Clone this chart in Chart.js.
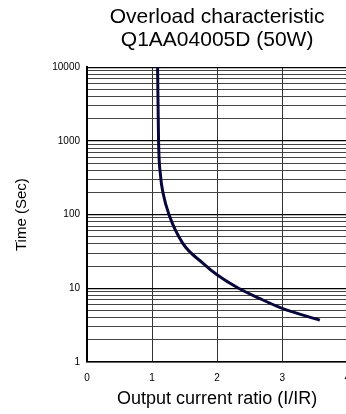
<!DOCTYPE html>
<html>
<head>
<meta charset="utf-8">
<script src="https://cdn.jsdelivr.net/npm/chart.js@4.4.1/dist/chart.umd.min.js"></script>
<style>
  html, body { margin: 0; padding: 0; background: #fff; overflow: hidden; }
  #wrap { width: 360px; height: 414px; }
</style>
</head>
<body>
<div id="wrap"><canvas id="myChart"></canvas></div>
<script>
// values
const ratio = [1.085, 1.10, 1.13, 1.17, 1.26, 1.47, 1.78, 2.01, 2.33, 2.65, 3.0, 3.58];
const seconds = [10000, 1000, 340, 195, 100, 41, 22, 15, 10, 7.3, 5.35, 3.7];

const xTicks = [0, 1, 2, 3, 4];
const yMajor = [1, 10, 100, 1000, 10000];
const yMinor = [2, 3, 4, 5, 6, 7, 8, 9];

const yTicks = [];
yMajor.forEach(function (m, i) {
  yTicks.push(m);
  if (i < yMajor.length - 1) yMinor.forEach(function (k) { yTicks.push(m * k); });
});

const font = "'Liberation Sans', Arial, sans-serif";

const ctx = document.getElementById('myChart').getContext('2d');
const myChart = new Chart(ctx, {
  type: 'line',
  data: {
    datasets: [{
      label: 'Overload',
      data: ratio.map(function (r, i) { return { x: r, y: seconds[i] }; }),
      borderColor: '#06063a',
      borderWidth: 3,
      pointRadius: 0,
      fill: false,
      cubicInterpolationMode: 'monotone'
    }]
  },
  options: {
    responsive: true,
    maintainAspectRatio: false,
    animation: false,
    layout: { padding: { left: 0, right: 12, top: 0, bottom: 0 } },
    plugins: {
      legend: { display: false },
      tooltip: { enabled: false },
      title: {
        display: true,
        fullSize: false,
        text: ['Overload characteristic', 'Q1AA04005D (50W)'],
        color: '#000',
        font: { family: font, size: 21, weight: 'normal', lineHeight: 1.1 },
        padding: { top: 6, bottom: 15 }
      }
    },
    scales: {
      x: {
        type: 'linear',
        min: 0,
        max: 4,
        afterBuildTicks: function (scale) {
          scale.ticks = xTicks.map(function (v) { return { value: v }; });
        },
        afterFit: function (scale) { scale.height = 52; },
        grid: { color: '#333', lineWidth: 1, drawTicks: false },
        border: { display: true, color: '#000', width: 1.5 },
        ticks: { color: '#000', font: { family: font, size: 10 }, padding: 10, maxRotation: 0 },
        title: {
          display: true,
          text: 'Output current ratio (I/IR)',
          color: '#000',
          font: { family: font, size: 18 },
          padding: { top: 0, bottom: 4 }
        }
      },
      y: {
        type: 'logarithmic',
        min: 1,
        max: 10000,
        afterBuildTicks: function (scale) {
          scale.ticks = yTicks.map(function (v) { return { value: v }; });
        },
        afterFit: function (scale) { scale.width = 87; },
        grid: {
          drawTicks: false,
          lineWidth: function (c) { return yMajor.indexOf(c.tick.value) >= 0 ? 1.2 : 1; },
          color: function (c) { return yMajor.indexOf(c.tick.value) >= 0 ? '#000' : '#444'; }
        },
        border: { display: true, color: '#000', width: 2 },
        ticks: {
          color: '#000',
          autoSkip: false,
          padding: 7,
          font: { family: font, size: 10 },
          callback: function (v) { return yMajor.indexOf(v) >= 0 ? String(v) : ''; }
        },
        title: {
          display: true,
          text: 'Time (Sec)',
          color: '#000',
          font: { family: font, size: 15 },
          padding: { top: 13, bottom: 0 }
        }
      }
    }
  }
});
</script>
</body>
</html>
